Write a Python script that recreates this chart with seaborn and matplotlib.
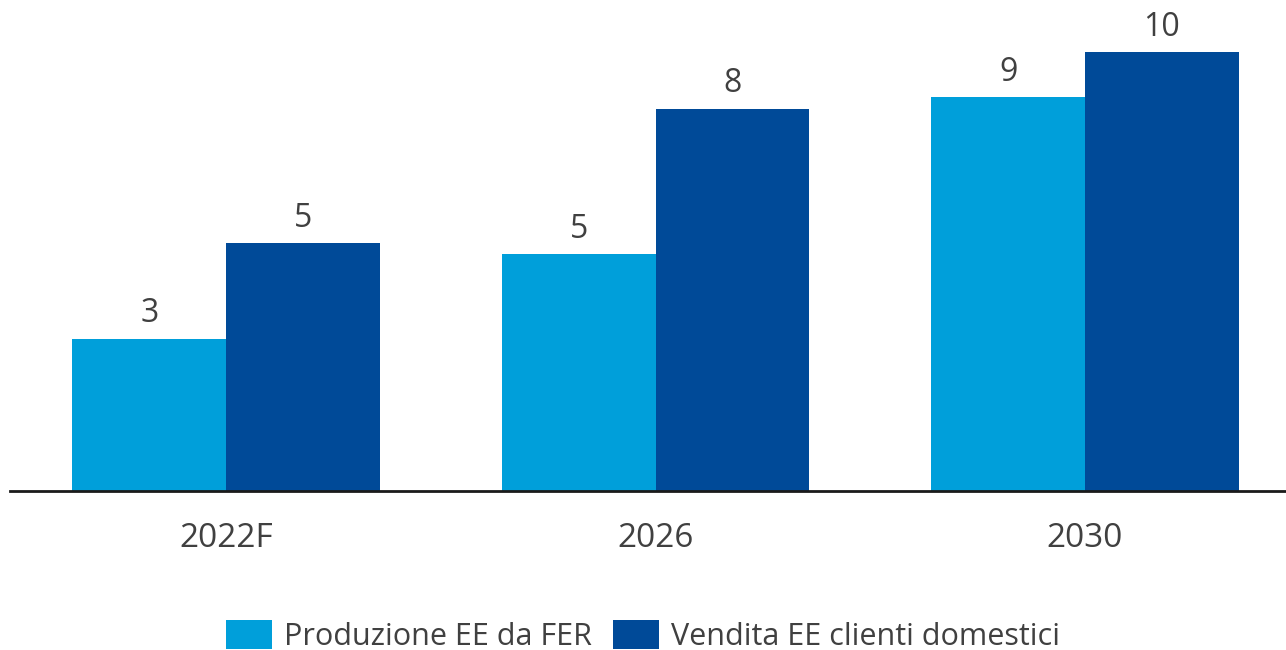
import matplotlib
matplotlib.use("Agg")
import matplotlib.pyplot as plt
import seaborn as sns
import pandas as pd
from matplotlib.patches import Patch

categories = ["2022F", "2026", "2030"]
series_names = ["Produzione EE da FER", "Vendita EE clienti domestici"]
produzione = [3.35, 5.2, 8.65]
vendita = [5.45, 8.4, 9.65]
labels_produzione = ["3", "5", "9"]
labels_vendita = ["5", "8", "10"]
colors = ["#009FDA", "#004A98"]

sns.set_theme(style="white")
plt.rcParams["font.family"] = ["Open Sans", "DejaVu Sans"]
text_color = "#404040"

df = pd.DataFrame({
    "cat": categories * 2,
    "serie": [series_names[0]] * 3 + [series_names[1]] * 3,
    "val": produzione + vendita,
})

fig = plt.figure(figsize=(12.86, 6.5), dpi=100)
ax = fig.add_axes([10 / 1286, 159 / 650, 1 - 10 / 1286, 491 / 650])
sns.barplot(data=df, x="cat", y="val", hue="serie", order=categories,
            hue_order=series_names, palette=colors, saturation=1,
            width=0.715, dodge=True, gap=0, ax=ax, legend=False,
            linewidth=0, errorbar=None)

for cont, labs in zip(ax.containers, [labels_produzione, labels_vendita]):
    ax.bar_label(cont, labels=labs, padding=6, fontsize=23, color=text_color)

ax.set_xlim(-0.503, 2.468)
ax.set_ylim(0, 10.79)
ax.set_xlabel("")
ax.set_ylabel("")
ax.set_yticks([])
for s in ["top", "right", "left"]:
    ax.spines[s].set_visible(False)
ax.spines["bottom"].set_color("#1a1a1a")
ax.spines["bottom"].set_linewidth(2)
ax.tick_params(axis="x", length=0, pad=22, labelsize=24, labelcolor=text_color)

handles = [Patch(facecolor=c, edgecolor="none") for c in colors]
fig.legend(handles, series_names, loc="lower center", bbox_to_anchor=(0.5, -0.045),
           ncol=2, frameon=False, fontsize=22, labelcolor=text_color,
           handlelength=1.5, handleheight=1.1, handletextpad=0.4, columnspacing=0.7)

fig.savefig("out.png", dpi=100, facecolor="white")
